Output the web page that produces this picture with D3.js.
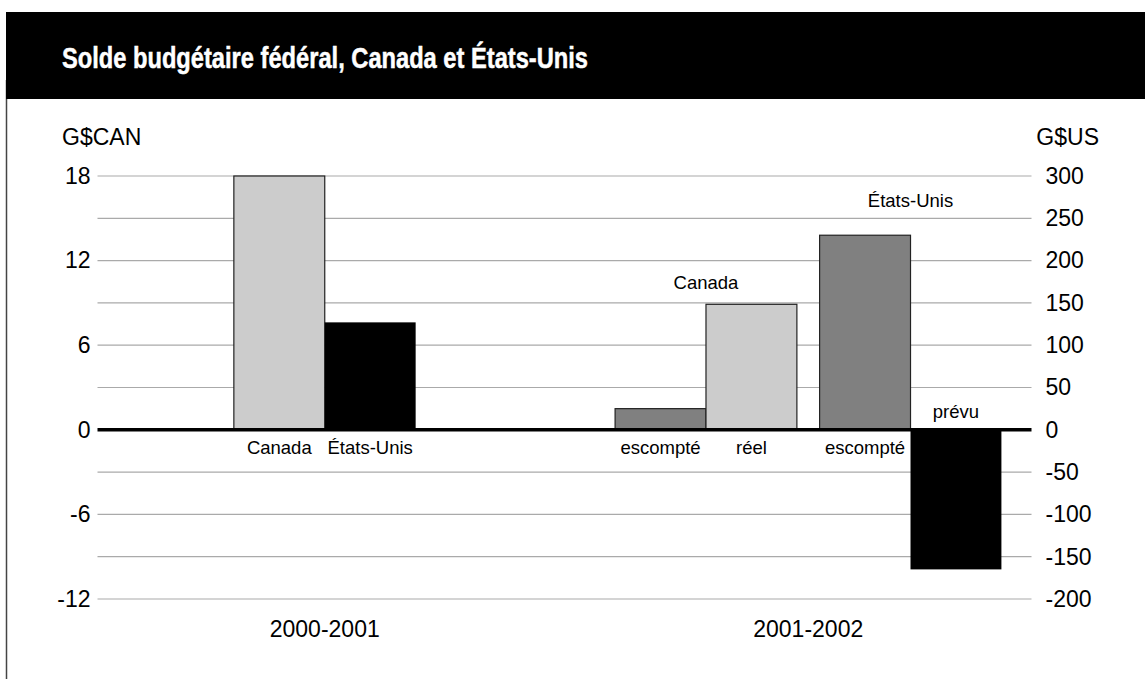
<!DOCTYPE html>
<html><head><meta charset="utf-8">
<script src="https://cdn.jsdelivr.net/npm/d3@7"></script>
<style>body{margin:0;background:#fff} svg{display:block}</style>
</head><body>
<svg id="chart" width="1145" height="679"></svg>
<script>
// ---- data ----
const chartTitle = "Solde budgétaire fédéral, Canada et États-Unis";
const leftUnit = "G$CAN";
const rightUnit = "G$US";
const periods = ["2000-2001", "2001-2002"];
const barPeriods   = ["2000-2001", "2000-2001", "2001-2002", "2001-2002", "2001-2002", "2001-2002"];
const barCountries = ["Canada", "États-Unis", "Canada", "Canada", "États-Unis", "États-Unis"];
const barStatus    = ["réel", "réel", "escompté", "réel", "escompté", "prévu"];
const barLabels    = ["Canada", "États-Unis", "escompté", "réel", "escompté", "prévu"];
// Canada in G$CAN (left axis), États-Unis in G$US (right axis)
const barValues    = [18.0, 127, 1.5, 8.9, 230, -165];
const groupLabelPeriods   = ["2001-2002", "2001-2002"];
const groupLabelCountries = ["Canada", "États-Unis"];
const leftTicks  = [-12, -6, 0, 6, 12, 18];
const rightTicks = [-200, -150, -100, -50, 0, 50, 100, 150, 200, 250, 300];
const gridValues = [-12, -9, -6, -3, 3, 6, 9, 12, 15, 18];

// ---- layout ----
const svg = d3.select("#chart");
const W = 1145, H = 679;
const plotL = 97.5, plotR = 1031.5;
const FONT = "'Liberation Sans', Arial, Helvetica, sans-serif";
const groupLabelGap = {"Canada": 15, "États-Unis": 28};

const yL = d3.scaleLinear().domain([-12, 18]).range([599, 176]);
const yR = d3.scaleLinear().domain([-200, 300]).range([599, 176]);
const x0 = d3.scaleBand().domain(periods).range([83, 1050]).padding(0);
const fmt = d => String(d).replace("\u2212", "-");

const bars = barValues.map((v, i) => ({
  period: barPeriods[i], country: barCountries[i], status: barStatus[i],
  label: barLabels[i], value: v
}));
const yFor = d => d.country === "Canada" ? yL : yR;

const barW = x0.bandwidth() * 0.188;
const gapW = barW * 0.25;
periods.forEach(p => {
  const g = bars.filter(b => b.period === p);
  const counts = d3.rollup(g, v => v.length, b => b.country);
  let off = 0; const offs = [];
  g.forEach((b, i) => {
    if (i > 0 && b.country !== g[i - 1].country && counts.get(g[i - 1].country) > 1) off += gapW;
    offs.push(off); off += barW;
  });
  const start = x0(p) + x0.bandwidth() / 2 - off / 2;
  g.forEach((b, i) => { b.x = start + offs[i]; });
});

const fillFor = d => d.status === "escompté" ? "#808080" : (d.country === "Canada" ? "#cccccc" : "#000000");

// frame: left border and title bar
svg.append("rect").attr("x", 0).attr("y", 0).attr("width", W).attr("height", H).attr("fill", "#fff");
svg.append("line").attr("x1", 6.5).attr("x2", 6.5).attr("y1", 80).attr("y2", H)
  .attr("stroke", "#444").attr("stroke-width", 1.5);
svg.append("rect").attr("x", 6).attr("y", 12).attr("width", W - 6).attr("height", 87).attr("fill", "#000");
svg.append("text").attr("x", 62).attr("y", 68)
  .attr("font-family", FONT)
  .attr("font-weight", "bold").attr("font-size", 30).attr("fill", "#fff")
  .attr("stroke", "#fff").attr("stroke-width", 0.5)
  .attr("textLength", 526).attr("lengthAdjust", "spacingAndGlyphs")
  .text(chartTitle);

// gridlines
svg.append("g").selectAll("line").data(gridValues).join("line")
  .attr("x1", plotL).attr("x2", plotR)
  .attr("y1", d => yL(d)).attr("y2", d => yL(d))
  .attr("stroke", "#aaaaaa").attr("stroke-width", 1.2);

// axes (labels only)
const axL = svg.append("g").attr("transform", `translate(${plotL - 7},0)`)
  .call(d3.axisLeft(yL).tickValues(leftTicks).tickSize(0).tickPadding(0).tickFormat(fmt));
const axR = svg.append("g").attr("transform", `translate(${plotR + 14},0)`)
  .call(d3.axisRight(yR).tickValues(rightTicks).tickSize(0).tickPadding(0).tickFormat(fmt));
[axL, axR].forEach(a => {
  a.select(".domain").remove();
  a.selectAll("text").attr("font-family", FONT).attr("font-size", 23).attr("fill", "#000");
});

// unit labels
svg.append("text").attr("x", 62).attr("y", 145).attr("font-family", FONT).attr("font-size", 23).text(leftUnit);
svg.append("text").attr("x", 1099).attr("y", 145).attr("text-anchor", "end").attr("font-family", FONT).attr("font-size", 23).text(rightUnit);

// bars
svg.append("g").selectAll("rect").data(bars).join("rect")
  .attr("x", d => d.x).attr("width", barW)
  .attr("y", d => Math.min(yFor(d)(d.value), yFor(d)(0)))
  .attr("height", d => Math.abs(yFor(d)(d.value) - yFor(d)(0)))
  .attr("fill", fillFor)
  .attr("stroke", d => fillFor(d) === "#000000" ? "none" : "#222")
  .attr("stroke-width", 1.2);

// zero line
svg.append("line").attr("x1", plotL).attr("x2", plotR).attr("y1", yL(0)).attr("y2", yL(0))
  .attr("stroke", "#000").attr("stroke-width", 3.5);

// bar labels
svg.append("g").selectAll("text").data(bars).join("text")
  .attr("x", d => d.x + barW / 2)
  .attr("y", d => d.value >= 0 ? yL(0) + 24 : yL(0) - 12)
  .attr("text-anchor", "middle").attr("font-family", FONT).attr("font-size", 18.5)
  .text(d => d.label);

// country group labels above 2001-2002 bars
groupLabelCountries.forEach((c, i) => {
  const g = bars.filter(b => b.period === groupLabelPeriods[i] && b.country === c);
  const cx = (d3.min(g, b => b.x) + d3.max(g, b => b.x) + barW) / 2;
  const top = d3.min(g, b => yFor(b)(Math.max(0, b.value)));
  svg.append("text").attr("x", cx).attr("y", top - groupLabelGap[c])
    .attr("text-anchor", "middle").attr("font-family", FONT).attr("font-size", 18.5).text(c);
});

// period labels
svg.append("g").selectAll("text").data(periods).join("text")
  .attr("x", d => x0(d) + x0.bandwidth() / 2).attr("y", 637)
  .attr("text-anchor", "middle").attr("font-family", FONT).attr("font-size", 23).text(d => d);
</script>
</body></html>
